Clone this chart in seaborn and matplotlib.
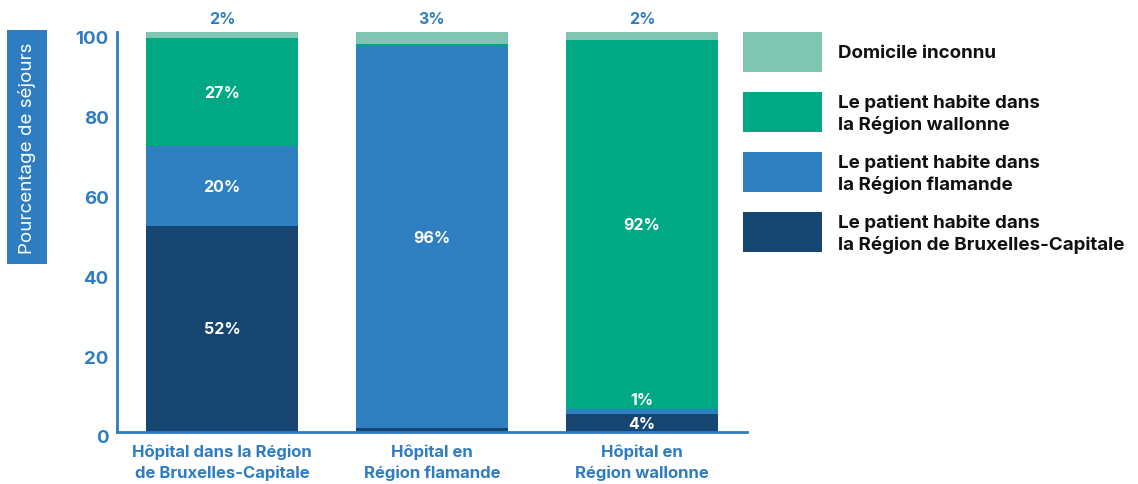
import pandas as pd
import seaborn as sns
import matplotlib.pyplot as plt
import matplotlib.transforms as mtransforms

# data (percentages of stays)
hospitals = ["Hôpital dans la Région\nde Bruxelles-Capitale",
             "Hôpital en\nRégion flamande",
             "Hôpital en\nRégion wallonne"]
bruxelles = [51.6, 0.9, 4.4]
flamande = [19.8, 95.6, 1.3]
wallonne = [27.0, 0.4, 92.3]
inconnu = [1.6, 3.1, 2.0]

series = ["Le patient habite dans\nla Région de Bruxelles-Capitale",
          "Le patient habite dans\nla Région flamande",
          "Le patient habite dans\nla Région wallonne",
          "Domicile inconnu"]
colors = ["#174572", "#2f7fc1", "#00a884", "#7fc5b1"]

blue = "#2f7dc1"

rows = []
for name, vals in zip(series, [bruxelles, flamande, wallonne, inconnu]):
    for i, h in enumerate(hospitals):
        rows.append({"pos": i, "hospital": h, "residence": name, "value": vals[i]})
df = pd.DataFrame(rows)

sns.set_style("white")
plt.rcParams["font.family"] = ["Inter", "DejaVu Sans"]
plt.rcParams["font.weight"] = "bold"

fig = plt.figure(figsize=(11.38, 4.85), dpi=100)
ax = fig.add_axes([117 / 1138, 52 / 485, 630 / 1138, 400 / 485])

# seaborn stacks the first hue level on top, so reverse the order
sns.histplot(data=df, x="pos", weights="value", hue="residence",
             hue_order=series[::-1], palette=colors[::-1],
             multiple="stack", discrete=True, shrink=0.72,
             alpha=1, linewidth=0, legend=False, ax=ax)

ax.set_xlim(-0.5, 2.5)
ax.set_ylim(0, 100)
ax.set_xticks(range(len(hospitals)))
ax.set_xticklabels(hospitals, color=blue, fontsize=12, fontweight="bold",
                   linespacing=1.5)
ax.set_yticks([0, 20, 40, 60, 80, 100])
ax.set_yticklabels(["0", "20", "40", "60", "80", "100"], color=blue,
                   fontsize=13.5, fontweight="bold")
ax.tick_params(axis="both", length=0)
ax.tick_params(axis="y", pad=6)
ax.tick_params(axis="x", pad=8)
shift = mtransforms.ScaledTranslation(0, -4 / 100, fig.dpi_scale_trans)
for lab in ax.get_yticklabels():
    lab.set_transform(lab.get_transform() + shift)
ax.set_xlabel("")
ax.set_ylabel("")
for side in ["top", "right"]:
    ax.spines[side].set_visible(False)
for side in ["left", "bottom"]:
    ax.spines[side].set_color(blue)
    ax.spines[side].set_linewidth(2)

# value labels
for i in range(len(hospitals)):
    base = 0
    for vals in [bruxelles, flamande, wallonne]:
        v = vals[i]
        if v >= 3:
            ax.text(i, base + v / 2, f"{round(v)}%", color="white",
                    fontsize=11.5, fontweight="bold", ha="center", va="center")
        elif i == 2 and vals is flamande:
            ax.text(i, base + v + 2.3, f"{round(v)}%", color="white",
                    fontsize=11.5, fontweight="bold", ha="center", va="center")
        base += v
    ax.text(i, base + inconnu[i] + 1.5, f"{round(inconnu[i])}%", color=blue,
            fontsize=11.5, fontweight="bold", ha="center", va="bottom")

# y label in a blue box
fig.text(27 / 1138, 1 - 148 / 485, "Pourcentage de séjours", rotation=90,
         color="white", fontsize=13.5, ha="center", va="center",
         fontweight="normal",
         bbox=dict(boxstyle="square,pad=0.6", fc=blue, ec="none"))

# legend
order = [3, 2, 1, 0]
for k, idx in enumerate(order):
    top = 33 + k * 60
    fig.patches.append(plt.Rectangle((743 / 1138, 1 - (top + 40) / 485),
                                     79 / 1138, 40 / 485,
                                     transform=fig.transFigure,
                                     color=colors[idx], lw=0))
    fig.text(838 / 1138, 1 - (top + 21) / 485, series[idx], color="#111111",
             fontsize=13.5, fontweight="bold", ha="left", va="center",
             linespacing=1.3)

fig.savefig("out.png", dpi=100)
